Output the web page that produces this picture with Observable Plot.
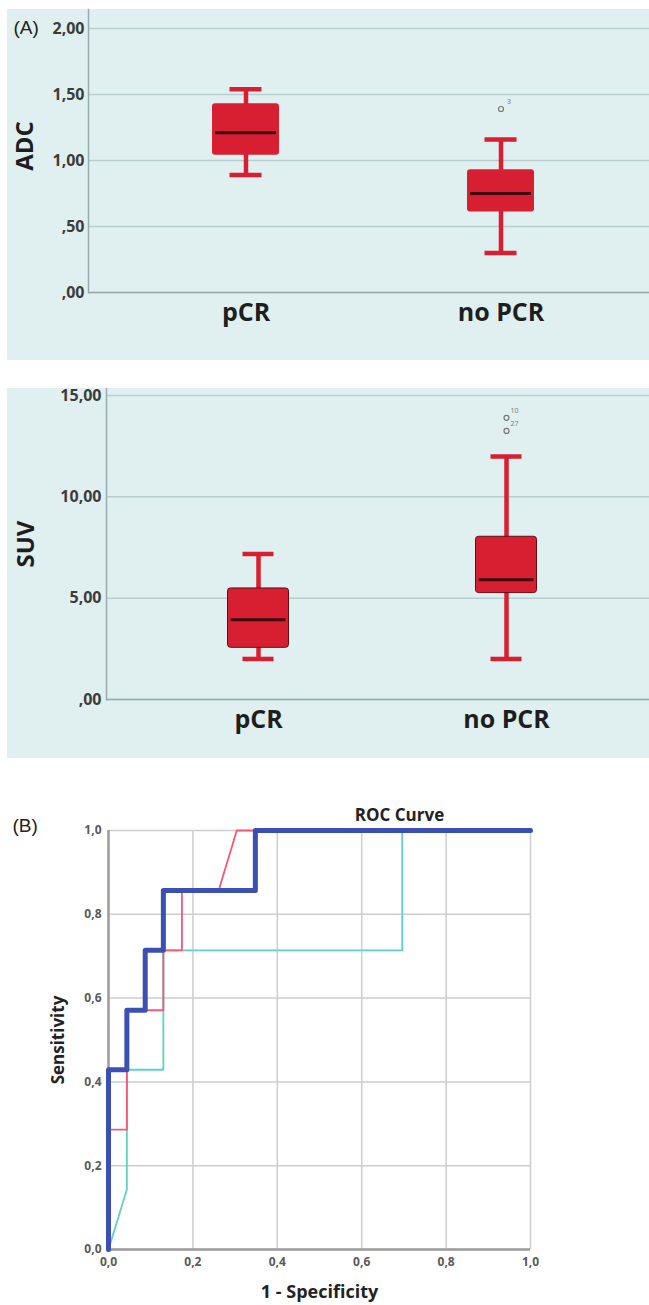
<!DOCTYPE html>
<html><head><meta charset="utf-8">
<script src="https://cdn.jsdelivr.net/npm/d3@7"></script>
<script src="https://cdn.jsdelivr.net/npm/@observablehq/plot@0.6"></script>
<style>
body{margin:0;background:#fff;width:649px;height:1305px;position:relative;overflow:hidden;font-family:"Open Sans",Lato,sans-serif}
.abs{position:absolute}
</style></head><body>
<div id="a" class="abs" style="left:7px;top:9px"></div>
<div id="b" class="abs" style="left:7px;top:388px"></div>
<div id="c" class="abs" style="left:0px;top:770px"></div>
<script>
// ---- data ----
const groups = ["pCR", "no PCR"];
const adcLow = [0.89, 0.30];
const adcQ1 = [1.04, 0.61];
const adcMedian = [1.21, 0.75];
const adcQ3 = [1.43, 0.93];
const adcHigh = [1.54, 1.16];
const adcOutlierGroup = ["no PCR"];
const adcOutlierValue = [1.39];
const adcOutlierId = ["3"];
const adcTicks = [0, 0.5, 1, 1.5, 2];

const suvLow = [2.0, 2.0];
const suvQ1 = [2.55, 5.25];
const suvMedian = [3.94, 5.91];
const suvQ3 = [5.48, 8.03];
const suvHigh = [7.18, 11.99];
const suvOutlierGroup = ["no PCR", "no PCR"];
const suvOutlierValue = [13.9, 13.25];
const suvOutlierId = ["10", "27"];
const suvTicks = [0, 5, 10, 15];

const rocTicks = [0, 0.2, 0.4, 0.6, 0.8, 1];
const rocThickFpr = [0, 0, 0.0435, 0.0435, 0.087, 0.087, 0.130, 0.130, 0.348, 0.348, 1];
const rocThickTpr = [0, 0.429, 0.429, 0.571, 0.571, 0.714, 0.714, 0.857, 0.857, 1, 1];
const rocPinkFpr = [0, 0, 0.0435, 0.0435, 0.130, 0.130, 0.174, 0.174, 0.261, 0.304, 1];
const rocPinkTpr = [0, 0.286, 0.286, 0.571, 0.571, 0.714, 0.714, 0.857, 0.857, 1, 1];
const rocTealFpr = [0, 0.0435, 0.0435, 0.130, 0.130, 0.696, 0.696, 1];
const rocTealTpr = [0, 0.143, 0.429, 0.429, 0.714, 0.714, 1, 1];

// ---- helpers ----
const RED = "#d81f31";
const BG = "#e0f0f1";
const GRID = "#b8cdcf";
const AXIS = "#97abad";
const FONT = "'Open Sans', Lato, sans-serif";
const fmt2 = d => { let s = d.toFixed(2).replace(".", ","); if (s.startsWith("0,")) s = s.slice(1); return s; };
const fmt1 = d => d.toFixed(1).replace(".", ",");

function boxPanel(o) {
  const rows = groups.map((g, i) => ({g, low: o.low[i], q1: o.q1[i], med: o.med[i], q3: o.q3[i], high: o.high[i]}));
  const outs = o.oG.map((g, i) => ({g, v: o.oV[i], id: o.oId[i]}));
  return Plot.plot({
    width: 642, height: o.height,
    marginTop: 0, marginRight: 0, marginBottom: o.marginBottom, marginLeft: o.marginLeft,
    style: {background: BG, fontFamily: FONT, overflow: "visible"},
    x: {domain: groups, range: o.xRange, padding: 0, label: null},
    y: {domain: [0, o.yMax], label: null},
    marks: [
      Plot.gridY(o.ticks, {stroke: GRID, strokeOpacity: 1, strokeWidth: 1.5}),
      Plot.frame({anchor: "left", stroke: AXIS, strokeWidth: 1.5}),
      Plot.ruleY([0], {stroke: AXIS, strokeWidth: 1.5}),
      Plot.axisY(o.ticks, {tickSize: 0, tickPadding: o.tickPad, tickFormat: fmt2, fontSize: 16, fontWeight: "bold", fill: "#3c3c3c", label: null}),
      Plot.axisX({tickSize: 0, tickPadding: 11, fontSize: 25, fontWeight: "bold", fill: "#1e1e1e", label: null}),
      Plot.ruleX(rows, {x: "g", y1: "low", y2: "high", stroke: RED, strokeWidth: 4.5}),
      Plot.tickY(rows, {x: "g", y: "low", stroke: RED, strokeWidth: 4.5, insetLeft: o.capInset, insetRight: o.capInset}),
      Plot.tickY(rows, {x: "g", y: "high", stroke: RED, strokeWidth: 4.5, insetLeft: o.capInset, insetRight: o.capInset}),
      Plot.barY(rows, {x: "g", y1: "q1", y2: "q3", fill: RED, stroke: o.boxStroke, strokeWidth: 1, rx: 3, insetLeft: o.boxInset, insetRight: o.boxInset}),
      Plot.tickY(rows, {x: "g", y: "med", stroke: "#3e0a10", strokeWidth: 3, insetLeft: o.boxInset + 3, insetRight: o.boxInset + 3}),
      Plot.dot(outs, {x: "g", y: "v", r: 2.5, stroke: "#777", strokeWidth: 1.2, fill: "none"}),
      Plot.text(outs, {x: "g", y: "v", text: "id", dx: 8, dy: -7, fontSize: 7, fill: "#777"}),
      Plot.text([o.label], {frameAnchor: "left", textAnchor: "middle", lineAnchor: "middle", rotate: -90, dx: o.labelDx, dy: o.labelDy, fontSize: 24, fontWeight: "bold", fill: "#1e1e1e"}),
      ...(o.tag ? [Plot.text([o.tag], {frameAnchor: "top-left", textAnchor: "start", lineAnchor: "middle", dx: -75, dy: 18, fontSize: 19, fontFamily: "'Liberation Sans', Arial, sans-serif", fill: "#222"})] : [])
    ]
  });
}

document.getElementById("a").append(boxPanel({
  low: adcLow, q1: adcQ1, med: adcMedian, q3: adcQ3, high: adcHigh,
  oG: adcOutlierGroup, oV: adcOutlierValue, oId: adcOutlierId,
  ticks: adcTicks, yMax: 2 + 19 / 132, height: 351, marginBottom: 68, marginLeft: 81,
  xRange: [110.5, 620.5], boxInset: 94, capInset: 111.5, tickPad: 4,
  label: "ADC", labelDx: -63, labelDy: -5, tag: "(A)", boxStroke: "none"
}));

document.getElementById("b").append(boxPanel({
  low: suvLow, q1: suvQ1, med: suvMedian, q3: suvQ3, high: suvHigh,
  oG: suvOutlierGroup, oV: suvOutlierValue, oId: suvOutlierId,
  ticks: suvTicks, yMax: 15 + 7 / 20.27, height: 370, marginBottom: 59, marginLeft: 99,
  xRange: [127, 623], boxInset: 93.5, capInset: 108.5, tickPad: 5,
  label: "SUV", labelDx: -80, labelDy: 0, tag: null, boxStroke: "#5a1016"
}));

function rows(fx, fy) { return fx.map((x, i) => ({x, y: fy[i]})); }

document.getElementById("c").append(Plot.plot({
  width: 649, height: 535,
  marginTop: 60, marginRight: 119, marginBottom: 56, marginLeft: 108,
  style: {background: "#fff", fontFamily: FONT, overflow: "visible"},
  x: {domain: [0, 1], label: null},
  y: {domain: [0, 1], label: null},
  marks: [
    Plot.gridX(rocTicks, {stroke: "#cdcdcd", strokeOpacity: 1, strokeWidth: 1.5}),
    Plot.gridY(rocTicks, {stroke: "#cdcdcd", strokeOpacity: 1, strokeWidth: 1.5}),
    Plot.ruleX([0], {stroke: "#9c9c9c", strokeWidth: 2.5}),
    Plot.ruleY([0], {stroke: "#9c9c9c", strokeWidth: 2.5}),
    Plot.axisY(rocTicks, {tickSize: 0, tickPadding: 7, tickFormat: fmt1, fontSize: 12, fontWeight: "bold", fill: "#5a5a5a", label: null}),
    Plot.axisX(rocTicks, {tickSize: 0, tickPadding: 8, tickFormat: fmt1, fontSize: 12, fontWeight: "bold", fill: "#5a5a5a", label: null}),
    Plot.line(rows(rocTealFpr, rocTealTpr), {x: "x", y: "y", stroke: "#62cfc6", strokeWidth: 1.8}),
    Plot.line(rows(rocPinkFpr, rocPinkTpr), {x: "x", y: "y", stroke: "#f05a78", strokeWidth: 1.8}),
    Plot.line(rows(rocThickFpr, rocThickTpr), {x: "x", y: "y", stroke: "#3b50b2", strokeWidth: 5}),
    Plot.text(["ROC Curve"], {frameAnchor: "top", textAnchor: "middle", lineAnchor: "middle", dx: 80, dy: -15, fontSize: 17, fontWeight: "bold", fill: "#222"}),
    Plot.text(["(B)"], {frameAnchor: "top-left", textAnchor: "start", lineAnchor: "middle", dx: -96, dy: -5, fontSize: 19, fontFamily: "'Liberation Sans', Arial, sans-serif", fill: "#222"}),
    Plot.text(["Sensitivity"], {frameAnchor: "left", textAnchor: "middle", lineAnchor: "middle", rotate: -90, dx: -50, fontSize: 17, fontWeight: "bold", fill: "#222"}),
    Plot.text(["1 - Specificity"], {frameAnchor: "bottom", textAnchor: "middle", lineAnchor: "middle", dy: 43, fontSize: 18, fontWeight: "bold", fill: "#222"})
  ]
}));
</script>
</body></html>
